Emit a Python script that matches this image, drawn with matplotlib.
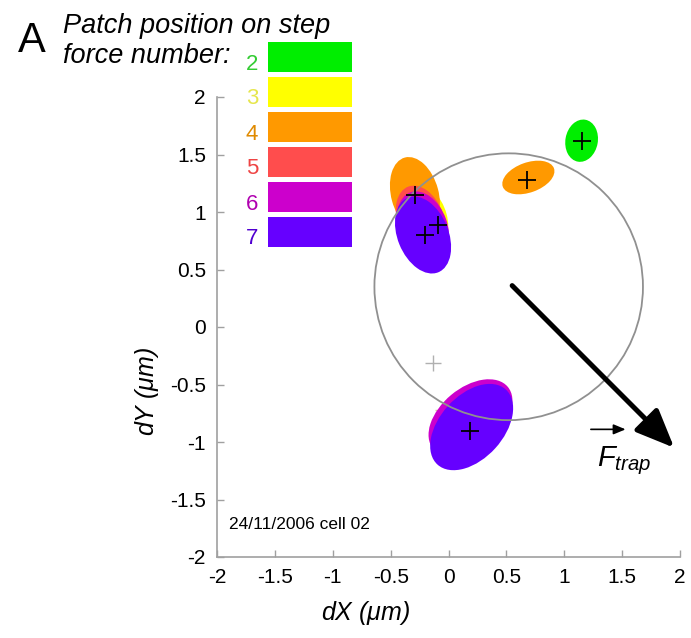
import matplotlib
matplotlib.use("Agg")
import matplotlib.pyplot as plt
from matplotlib.patches import Ellipse, Circle, Rectangle

plt.rcParams["font.family"] = ["Liberation Sans", "DejaVu Sans"]
plt.rcParams["mathtext.fontset"] = "custom"
plt.rcParams["mathtext.it"] = "Liberation Sans:italic"
plt.rcParams["mathtext.rm"] = "Liberation Sans"

# legend: step force number -> colour
steps = [2, 3, 4, 5, 6, 7]
step_colors = ["#00ee00", "#ffff00", "#ff9900", "#ff4d4d", "#cc00cc", "#6600ff"]
label_colors = ["#33cc33", "#e6e64d", "#e08a00", "#ee4444", "#b000b0", "#5000d0"]

# patch position ellipses (um), drawn in this order
patch_step = [2, 4, 3, 4, 5, 6, 7, 6, 7]
patch_x = [1.15, 0.69, -0.22, -0.29, -0.24, -0.22, -0.22, 0.19, 0.20]
patch_y = [1.62, 1.30, 0.93, 1.15, 0.93, 0.87, 0.80, -0.79, -0.87]
patch_w = [0.37, 0.47, 0.62, 0.67, 0.62, 0.64, 0.70, 0.84, 0.88]
patch_h = [0.28, 0.26, 0.42, 0.41, 0.40, 0.42, 0.44, 0.52, 0.55]
patch_angle = [80, 20, 105, 105, 110, 110, 112, 40, 48]

# crosses
cross_x = [1.15, 0.68, -0.29, -0.09, -0.20, 0.19]
cross_y = [1.62, 1.28, 1.15, 0.89, 0.80, -0.905]
grey_cross = (-0.13, -0.31)
pale_cross = (-0.03, -0.72)

# trap circle and force arrow
trap_center = (0.52, 0.35)
trap_radius = 1.16
force_start = (0.55, 0.36)
force_end = (1.95, -1.05)

ticks = [-2, -1.5, -1, -0.5, 0, 0.5, 1, 1.5, 2]
tick_labels = ["-2", "-1.5", "-1", "-0.5", "0", "0.5", "1", "1.5", "2"]

fig = plt.figure(figsize=(6.91, 6.38), dpi=100)
ax = fig.add_axes([217 / 691, 1 - 557 / 638, 463 / 691, 460 / 638])
ax.set_xlim(-2, 2)
ax.set_ylim(-2, 2)

color_of = dict(zip(steps, step_colors))

ax.plot(*pale_cross, marker="+", ms=14, mew=1.0, color="#d8c8a0", zorder=1)
for s, x, y, w, h, a in zip(patch_step, patch_x, patch_y, patch_w, patch_h, patch_angle):
    ax.add_patch(Ellipse((x, y), w, h, angle=a, facecolor=color_of[s], edgecolor="none", zorder=2))

ax.add_patch(Circle(trap_center, trap_radius, fill=False, edgecolor="#909090", lw=1.3, zorder=3))
ax.plot(cross_x, cross_y, "+", ms=13, mew=1.3, color="black", linestyle="none", zorder=4)
ax.plot(*grey_cross, marker="+", ms=11, mew=1.0, color="#b0b0b0", zorder=4)

ax.annotate("", xy=force_end, xytext=force_start,
            arrowprops=dict(arrowstyle="-|>,head_length=1.3,head_width=0.55",
                            lw=3.6, color="black", mutation_scale=18, shrinkA=0, shrinkB=0),
            zorder=5)
ax.text(1.28, -1.21, r"$F_{trap}$", fontsize=21, ha="left", va="baseline")
ax.annotate("", xy=(1.53, -0.89), xytext=(1.23, -0.89),
            arrowprops=dict(arrowstyle="-|>,head_length=0.6,head_width=0.25",
                            lw=1.2, color="black", mutation_scale=12, shrinkA=0, shrinkB=0))

ax.text(-1.9, -1.76, "24/11/2006 cell 02", fontsize=12.5, ha="left", va="baseline")

for side in ["top", "right"]:
    ax.spines[side].set_visible(False)
for side in ["left", "bottom"]:
    ax.spines[side].set_color("#a0a0a0")
    ax.spines[side].set_linewidth(1.2)
ax.set_xticks(ticks)
ax.set_xticklabels(tick_labels)
ax.set_yticks(ticks)
ax.set_yticklabels(tick_labels)
ax.tick_params(direction="in", length=5, width=1, color="#a0a0a0", labelsize=15, pad=8)

ax.set_xlabel(r"dX ($\mu$m)", fontsize=18, style="italic")
ax.set_ylabel(r"dY ($\mu$m)", fontsize=18, style="italic")
ax.xaxis.set_label_coords(0.32, -0.092)
ax.yaxis.set_label_coords(-0.12, 0.36)

# panel letter, legend title and colour keys
fig.text(18 / 691, 1 - 52 / 638, "A", fontsize=30, ha="left", va="baseline")
fig.text(63 / 691, 1 - 33 / 638, "Patch position on step", fontsize=19.5,
         style="italic", ha="left", va="baseline")
fig.text(63 / 691, 1 - 63 / 638, "force number:", fontsize=19.5,
         style="italic", ha="left", va="baseline")
for i, (s, c, lc) in enumerate(zip(steps, step_colors, label_colors)):
    top = 42 + i * 35
    fig.add_artist(Rectangle((268 / 691, 1 - (top + 30) / 638), 84 / 691, 30 / 638,
                             transform=fig.transFigure, facecolor=c, edgecolor="none"))
    fig.text(252 / 691, 1 - (top + 22) / 638, str(s), fontsize=16, color=lc,
             ha="center", va="center")

fig.savefig("out.png", dpi=100)
